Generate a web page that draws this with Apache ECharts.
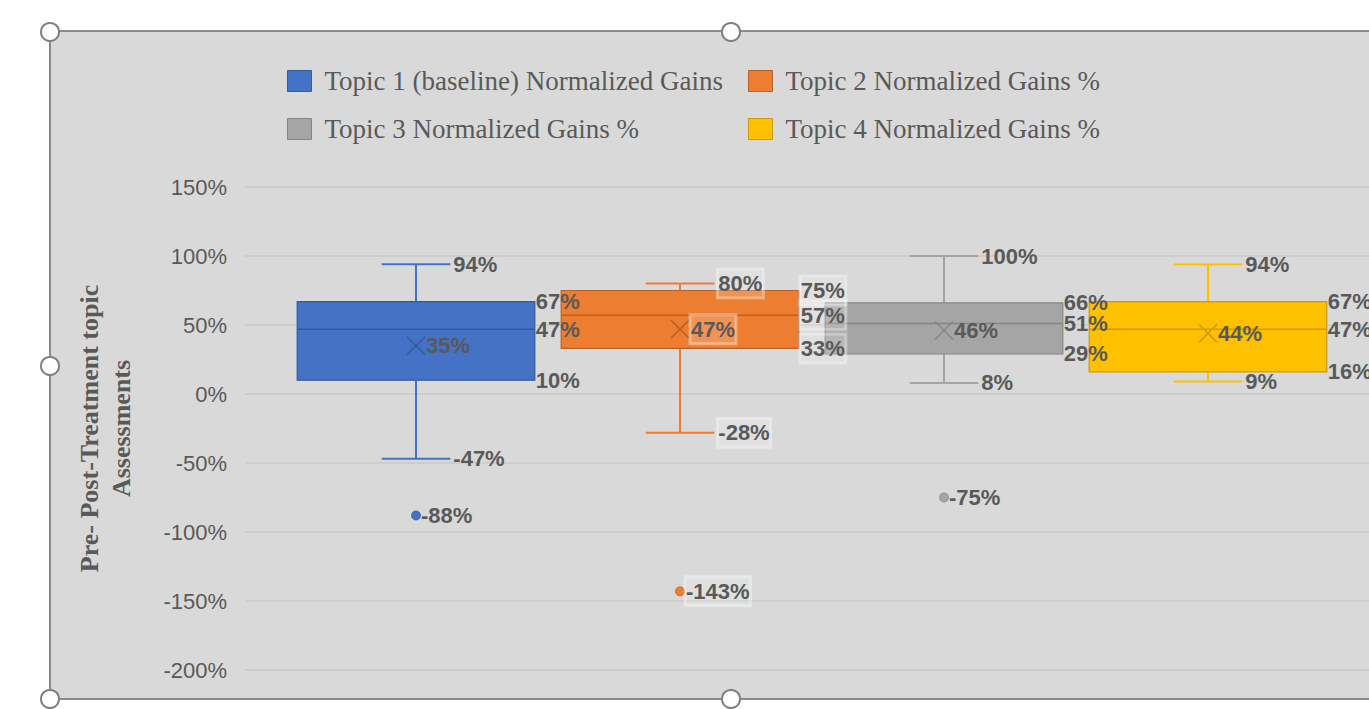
<!DOCTYPE html>
<html><head><meta charset="utf-8">
<script src="https://cdn.jsdelivr.net/npm/echarts@6/dist/echarts.min.js"></script>
<style>html,body{margin:0;padding:0;background:#fff;overflow:hidden}#c{width:1369px;height:709px}</style>
</head><body><div id="c"></div>
<script>
// ---- data ----
const categories = ['Topic 1 (baseline) Normalized Gains', 'Topic 2 Normalized Gains %', 'Topic 3 Normalized Gains %', 'Topic 4 Normalized Gains %'];
const whiskerMin = [-47, -28, 8, 9];
const q1 = [10, 33, 29, 16];
const median = [47, 57, 51, 47];
const q3 = [67, 75, 66, 67];
const whiskerMax = [94, 80, 100, 94];
const mean = [35, 47, 46, 44];
const outliers = [-88, -143, -75, null];
const yMin = -200, yMax = 150, yStep = 50;

// ---- style ----
const fills = ['#4472C4', '#ED7D31', '#A5A5A5', '#FFC000'];
const darks = ['#34599C', '#B8622A', '#858585', '#C99A0A'];
const labelBorder = [false, true, false, false];
const labelColor = '#595959';
const labelFont = 'bold 22px "Liberation Sans", Arial, sans-serif';

function row(i) {
  return [i, whiskerMin[i], q1[i], median[i], q3[i], whiskerMax[i], mean[i], outliers[i] == null ? '-' : outliers[i]];
}

function renderBox(params, api) {
  const i = api.value(0);
  const si = params.seriesIndex;
  const band = api.size([1, 0])[0];
  const bw = band * 0.9, cw = band * 0.26;
  const pMin = api.coord([i, api.value(1)]);
  const pQ1 = api.coord([i, api.value(2)]);
  const pMed = api.coord([i, api.value(3)]);
  const pQ3 = api.coord([i, api.value(4)]);
  const pMax = api.coord([i, api.value(5)]);
  const pMean = api.coord([i, api.value(6)]);
  const x = pMax[0];
  const fill = fills[si], dark = darks[si];
  const ln = (x1, y1, x2, y2, c, w) => ({ type: 'line', shape: { x1, y1, x2, y2 }, style: { stroke: c, lineWidth: w } });
  const children = [
    ln(x, pMax[1], x, pQ3[1], fill, 2),
    ln(x, pQ1[1], x, pMin[1], fill, 2),
    ln(x - cw / 2, pMax[1], x + cw / 2, pMax[1], fill, 2),
    ln(x - cw / 2, pMin[1], x + cw / 2, pMin[1], fill, 2),
    { type: 'rect', shape: { x: x - bw / 2, y: pQ3[1], width: bw, height: pQ1[1] - pQ3[1] }, style: { fill: fill, stroke: dark, lineWidth: 1.2 } },
    ln(x - bw / 2, pMed[1], x + bw / 2, pMed[1], dark, 1.5),
    ln(x - 9, pMean[1] - 9, x + 9, pMean[1] + 9, dark, 1.5),
    ln(x - 9, pMean[1] + 9, x + 9, pMean[1] - 9, dark, 1.5)
  ];
  const ov = api.value(7);
  if (!isNaN(ov)) {
    const pO = api.coord([i, ov]);
    children.push({ type: 'circle', shape: { cx: x, cy: pO[1], r: 4.5 }, style: { fill: fill, stroke: dark, lineWidth: 0.8 } });
  }
  return { type: 'group', children };
}

function renderLabels(params, api) {
  const i = api.value(0);
  const band = api.size([1, 0])[0];
  const bw = band * 0.9, cw = band * 0.26;
  const x = api.coord([i, 0])[0];
  const boxed = labelBorder[i];
  const txt = (tx, ty, v) => ({
    type: 'text', x: tx, y: ty,
    style: Object.assign({ text: v + '%', fill: labelColor, font: labelFont, align: 'left', verticalAlign: 'middle' },
      boxed ? { backgroundColor: 'rgba(255,255,255,0.18)', borderColor: 'rgba(255,255,255,0.35)', borderWidth: 1.5, padding: [4, 1, 3, 1] } : {})
  });
  const kids = [];
  const vals = [1, 2, 3, 4, 5, 6].map(k => api.value(k));
  const Y = v => api.coord([i, v])[1];
  kids.push(txt(x + cw / 2 + 3, Y(vals[4]), vals[4]));   // max
  kids.push(txt(x + cw / 2 + 3, Y(vals[0]), vals[0]));   // min
  kids.push(txt(x + bw / 2 + 1, Y(vals[3]), vals[3]));   // q3
  kids.push(txt(x + bw / 2 + 1, Y(vals[2]), vals[2]));   // median
  kids.push(txt(x + bw / 2 + 1, Y(vals[1]), vals[1]));   // q1
  kids.push(txt(x + 10, Y(vals[5]), vals[5]));           // mean
  const ov = api.value(7);
  if (!isNaN(ov)) kids.push(txt(x + 5, Y(ov), ov));
  return { type: 'group', children: kids };
}

const chart = echarts.init(document.getElementById('c'), null, { renderer: 'svg' });

const boxSeries = categories.map((name, i) => ({
  name: name,
  type: 'custom',
  xAxisIndex: 0, yAxisIndex: 0,
  itemStyle: { color: fills[i] },
  renderItem: renderBox,
  encode: { x: 0, y: [1, 2, 3, 4, 5, 6, 7] },
  data: [row(i)],
  silent: true,
  z: 2
}));

const legendText = { fontFamily: '"Liberation Serif", "Times New Roman", serif', fontSize: 27, color: '#595959', lineHeight: 28, padding: [0, 0, 0, 8] };

const option = {
  backgroundColor: '#ffffff',
  animation: false,
  graphic: [
    { type: 'rect', z: -100, shape: { x: 50, y: 31, width: 1340, height: 668 }, style: { fill: '#d9d9d9', stroke: '#8a8a8a', lineWidth: 2 } },
    { type: 'circle', z: 100, shape: { cx: 50, cy: 32, r: 9 }, style: { fill: '#fff', stroke: '#7f7f7f', lineWidth: 2 } },
    { type: 'circle', z: 100, shape: { cx: 731, cy: 32, r: 9 }, style: { fill: '#fff', stroke: '#7f7f7f', lineWidth: 2 } },
    { type: 'circle', z: 100, shape: { cx: 50, cy: 366, r: 9 }, style: { fill: '#fff', stroke: '#7f7f7f', lineWidth: 2 } },
    { type: 'circle', z: 100, shape: { cx: 50, cy: 699, r: 9 }, style: { fill: '#fff', stroke: '#7f7f7f', lineWidth: 2 } },
    { type: 'circle', z: 100, shape: { cx: 731, cy: 699, r: 9 }, style: { fill: '#fff', stroke: '#7f7f7f', lineWidth: 2 } }
  ],
  legend: [
    { data: [{ name: categories[0], itemStyle: { borderColor: darks[0], borderWidth: 1 } }, { name: categories[2], itemStyle: { borderColor: darks[2], borderWidth: 1 } }],
      orient: 'vertical', left: 282, top: 62, itemWidth: 24, itemHeight: 21, itemGap: 20, icon: 'rect', textStyle: legendText, selectedMode: false },
    { data: [{ name: categories[1], itemStyle: { borderColor: darks[1], borderWidth: 1 } }, { name: categories[3], itemStyle: { borderColor: darks[3], borderWidth: 1 } }],
      orient: 'vertical', left: 743, top: 62, itemWidth: 24, itemHeight: 21, itemGap: 20, icon: 'rect', textStyle: legendText, selectedMode: false }
  ],
  grid: [
    { left: 284, width: 1056, top: 187, height: 483 },
    { left: 245, width: 1140, top: 187, height: 483 }
  ],
  xAxis: [
    { gridIndex: 0, type: 'category', data: categories, show: false, boundaryGap: true },
    { gridIndex: 1, type: 'value', min: 0, max: 1, show: false }
  ],
  yAxis: [
    { gridIndex: 0, type: 'value', min: yMin, max: yMax, interval: yStep, show: false },
    { gridIndex: 1, type: 'value', min: yMin, max: yMax, interval: yStep,
      axisLine: { show: false }, axisTick: { show: false },
      splitLine: { show: true, lineStyle: { color: '#c8c8c8', width: 1.5 } },
      axisLabel: { formatter: '{value}%', color: '#595959', fontSize: 22, fontFamily: '"Liberation Sans", Arial, sans-serif', margin: 18 },
      name: 'Pre- Post-Treatment topic\nAssessments', nameLocation: 'middle', nameRotate: 90, nameGap: 108,
      nameTextStyle: { fontFamily: '"Liberation Serif", "Times New Roman", serif', fontWeight: 'bold', fontSize: 26, color: '#595959', lineHeight: 32 }
    }
  ],
  series: boxSeries.concat([{
    name: 'labels', type: 'custom', xAxisIndex: 0, yAxisIndex: 0,
    renderItem: renderLabels, encode: { x: 0, y: [1, 2, 3, 4, 5, 6, 7] },
    data: categories.map((c, i) => row(i)), silent: true, z: 5
  }])
};
chart.setOption(option);
</script>
</body></html>
